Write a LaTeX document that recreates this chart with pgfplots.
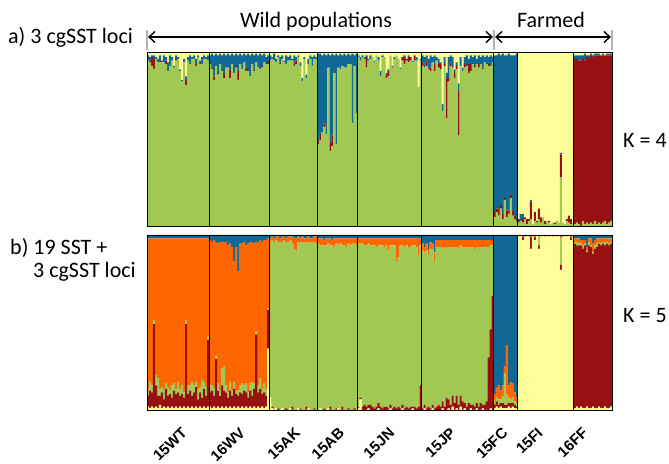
\documentclass[border=0pt]{standalone}
\usepackage{pgfplots}
\pgfplotsset{compat=1.18}
\usepackage{pgfplotstable}
\usetikzlibrary{arrows.meta}
\usepackage{fontspec}
\setmainfont{Carlito}
\newfontfamily\lab{Liberation Sans}
\definecolor{cgreen}{RGB}{160,200,82}
\definecolor{cblue}{RGB}{16,104,150}
\definecolor{cyellow}{RGB}{255,255,153}
\definecolor{cred}{RGB}{150,16,20}
\definecolor{corange}{RGB}{255,102,0}

\pgfplotstableread{
i g r b y
1 .95 0 .03 .02
2 .94 .01 .02 .03
3 .92 .05 .01 .02
4 .90 .06 .02 .02
5 .96 0 .01 .03
6 .94 0 .02 .04
7 .94 .01 .03 .02
8 .94 0 .01 .05
9 .94 0 .04 .02
10 .93 .02 .02 .03
11 .89 0 .05 .06
12 .92 0 .06 .02
13 .95 0 .02 .03
14 .91 0 .01 .08
15 .95 .01 .02 .02
16 .96 0 .01 .03
17 .89 0 .01 .10
18 .83 0 .01 .16
19 .94 0 .02 .04
20 .81 .03 .02 .14
21 .95 0 .02 .03
22 .93 0 .05 .02
23 .96 0 .01 .03
24 .96 0 .02 .02
25 .92 .01 .03 .04
26 .97 0 .01 .02
27 .93 0 .02 .05
28 .93 0 .04 .03
29 .96 0 .02 .02
30 .96 0 .01 .03
31 .95 0 .03 .02
32 .93 0 .05 .02
33 .90 .01 .08 .01
34 .84 .02 .12 .02
35 .92 0 .07 .01
36 .87 .01 .10 .02
37 .93 0 .06 .01
38 .89 0 .09 .02
39 .85 .03 .11 .01
40 .91 0 .07 .02
41 .91 0 .08 .01
42 .85 .05 .08 .02
43 .93 0 .06 .01
44 .88 0 .10 .02
45 .91 .01 .07 .01
46 .84 .05 .09 .02
47 .93 0 .06 .01
48 .90 0 .08 .02
49 .94 0 .05 .01
50 .89 .02 .07 .02
51 .89 0 .10 .01
52 .86 0 .12 .02
53 .93 0 .06 .01
54 .89 .01 .08 .02
55 .94 0 .05 .01
56 .91 0 .07 .02
57 .90 0 .09 .01
58 .91 .01 .06 .02
59 .94 0 .05 .01
60 .93 0 .04 .03
61 .93 .02 .03 .02
62 .95 0 .03 .02
63 .96 0 .01 .03
64 .95 0 .04 .01
65 .94 0 .02 .04
66 .97 0 .01 .02
67 .93 .01 .03 .03
68 .96 0 .02 .02
69 .94 0 .01 .05
70 .93 0 .05 .02
71 .95 0 .02 .03
72 .95 0 .03 .02
73 .95 0 .01 .04
74 .92 .02 .04 .02
75 .93 .02 .02 .03
76 .97 0 .01 .02
77 .92 0 .02 .06
78 .83 0 .02 .15
79 .96 0 .01 .03
80 .85 0 .02 .13
81 .93 0 .03 .04
82 .96 0 .02 .02
83 .92 0 .05 .03
84 .96 0 .02 .02
85 .96 0 .01 .03
86 .47 .02 .50 .01
87 .49 .04 .46 .01
88 .54 0 .44 .02
89 .57 .02 .40 .01
90 .53 0 .45 .02
91 .91 0 .08 .01
92 .43 .05 .50 .02
93 .46 .06 .47 .01
94 .88 0 .10 .02
95 .47 0 .52 .01
96 .91 0 .07 .02
97 .90 0 .09 .01
98 .92 0 .06 .02
99 .91 0 .08 .01
100 .91 0 .07 .02
101 .93 0 .06 .01
102 .93 0 .05 .02
103 .59 0 .40 .01
104 .92 0 .06 .02
105 .65 0 .34 .01
106 .97 0 .01 .02
107 .95 0 .02 .03
108 .97 0 .01 .02
109 .96 0 .01 .03
110 .91 .06 .01 .02
111 .95 0 .01 .04
112 .96 0 .02 .02
113 .97 0 0 .03
114 .94 0 .01 .05
115 .98 0 0 .02
116 .95 0 .02 .03
117 .86 0 .03 .11
118 .97 0 .01 .02
119 .97 0 0 .03
120 .85 .02 .01 .12
121 .86 .03 .01 .10
122 .98 0 0 .02
123 .91 0 .01 .08
124 .96 0 .01 .03
125 .98 0 0 .02
126 .96 0 0 .04
127 .90 0 .01 .09
128 .95 .02 0 .03
129 .93 .04 .01 .02
130 .95 .01 0 .04
131 .94 .03 .01 .02
132 .95 .02 0 .03
133 .94 0 .01 .05
134 .95 .03 0 .02
135 .95 0 .02 .03
136 .80 0 0 .20
137 .95 0 .01 .04
138 .92 .02 .04 .02
139 .91 0 .06 .03
140 .92 .03 .03 .02
141 .90 .01 .05 .04
142 .89 .02 .07 .02
143 .94 0 .03 .03
144 .89 .04 .05 .02
145 .95 0 .02 .03
146 .91 .02 .03 .04
147 .90 .03 .01 .06
148 .66 0 .04 .30
149 .92 .01 .04 .03
150 .62 .23 .03 .12
151 .83 .02 .12 .03
152 .92 .02 .04 .02
153 .91 .01 .05 .03
154 .85 .03 .02 .10
155 .90 .02 .02 .06
156 .52 .26 .04 .18
157 .92 0 .05 .03
158 .89 0 .02 .09
159 .91 .02 .04 .03
160 .92 0 .06 .02
161 .88 .05 .03 .04
162 .89 .04 .05 .02
163 .93 0 .04 .03
164 .91 .01 .06 .02
165 .93 0 .03 .04
166 .91 .02 .05 .02
167 .93 0 .04 .03
168 .90 .01 .07 .02
169 .94 0 .03 .03
170 .93 0 .05 .02
171 .92 .01 .04 .03
172 .92 0 .06 .02
173 .94 0 .03 .03
174 .05 .03 .90 .02
175 .08 .02 .88 .02
176 .06 .04 .89 .01
177 .10 .02 .86 .02
178 .04 .03 .92 .01
179 .15 .01 .82 .02
180 .05 .04 .89 .02
181 .07 .02 .90 .01
182 .16 .02 .80 .02
183 .06 .03 .89 .02
184 .04 .02 .92 .02
185 .03 .01 .95 .01
186 .02 .01 .01 .96
187 .03 0 .04 .93
188 .02 .02 .03 .93
189 .04 .01 0 .95
190 .01 .03 0 .96
191 .03 .01 0 .96
192 .04 .10 .01 .85
193 .01 0 0 .99
194 .03 .05 0 .92
195 .02 .01 0 .97
196 .04 .06 0 .90
197 .02 .03 0 .95
198 .05 0 0 .95
199 .01 .02 0 .97
200 .03 0 0 .97
201 .02 .01 0 .97
202 .01 0 0 .99
203 .02 0 0 .98
204 .01 .01 0 .98
205 .03 0 0 .97
206 .02 0 0 .98
207 .28 .13 .01 .58
208 .02 0 0 .98
209 .01 0 0 .99
210 .03 .01 0 .96
211 .02 .04 0 .94
212 .01 .03 0 .96
213 .02 0 0 .98
214 .01 .95 .02 .02
215 .02 .94 .02 .02
216 .01 .94 .03 .02
217 0 .95 .03 .02
218 .03 .93 .02 .02
219 .01 .94 .04 .01
220 .02 .95 .01 .02
221 .01 .95 .02 .02
222 .02 .96 .01 .01
223 .01 .96 .01 .02
224 .03 .95 .01 .01
225 .01 .97 .01 .01
226 .02 .96 .01 .01
227 .01 .97 0 .02
228 .02 .96 .01 .01
229 .03 .95 0 .02
230 .01 .97 .01 .01
231 .02 .96 .01 .01
232 .03 .95 .01 .01
}\dataA

\pgfplotstableread{
i Y D G O B
1 .02 .06 .03 .87 .02
2 .01 .10 .05 .82 .02
3 .02 .08 .04 .84 .02
4 .01 .48 .02 .47 .02
5 .02 .12 .06 .78 .02
6 .01 .07 .10 .80 .02
7 .03 .05 .04 .86 .02
8 .01 .09 .03 .85 .02
9 .02 .04 .06 .86 .02
10 .01 .11 .03 .83 .02
11 .02 .06 .05 .85 .02
12 .01 .08 .02 .87 .02
13 .02 .05 .07 .84 .02
14 .01 .10 .04 .83 .02
15 .02 .07 .03 .86 .02
16 .01 .09 .06 .82 .02
17 .02 .06 .04 .86 .02
18 .01 .08 .05 .84 .02
19 .02 .05 .03 .88 .02
20 .01 .48 .02 .47 .02
21 .02 .07 .05 .84 .02
22 .01 .10 .03 .84 .02
23 .02 .06 .08 .82 .02
24 .01 .09 .04 .84 .02
25 .02 .11 .03 .82 .02
26 .01 .05 .06 .86 .02
27 .02 .08 .03 .85 .02
28 .01 .06 .10 .81 .02
29 .02 .10 .04 .82 .02
30 .01 .07 .05 .85 .02
31 .02 .38 .02 .56 .02
32 .02 .08 .04 .83 .03
33 .01 .10 .03 .82 .04
34 .02 .06 .05 .84 .03
35 .01 .28 .02 .65 .04
36 .02 .09 .04 .80 .05
37 .01 .07 .03 .85 .04
38 .02 .12 .10 .72 .04
39 .01 .10 .14 .71 .04
40 .02 .08 .04 .82 .04
41 .01 .06 .03 .84 .06
42 .02 .09 .05 .79 .05
43 .01 .07 .03 .82 .07
44 .02 .10 .04 .69 .15
45 .01 .08 .02 .82 .07
46 .02 .06 .03 .68 .21
47 .01 .09 .04 .81 .05
48 .02 .07 .06 .80 .05
49 .01 .10 .03 .82 .04
50 .02 .08 .05 .79 .06
51 .01 .06 .03 .85 .05
52 .02 .09 .04 .81 .04
53 .01 .07 .08 .80 .04
54 .02 .10 .03 .80 .05
55 .01 .42 .02 .51 .04
56 .02 .08 .04 .82 .04
57 .01 .11 .06 .79 .03
58 .02 .07 .03 .84 .04
59 .01 .09 .05 .82 .03
60 .02 .06 .04 .85 .03
61 .35 .22 .01 .40 .02
62 .07 0 .89 .02 .02
63 .01 .01 .95 .02 .01
64 0 0 .96 .02 .02
65 .01 0 .96 .02 .01
66 0 .01 .95 .03 .01
67 0 0 .96 .02 .02
68 .01 0 .95 .03 .01
69 0 0 .97 .02 .01
70 0 .01 .95 .02 .02
71 0 0 .96 .03 .01
72 .01 0 .96 .02 .01
73 0 .02 .93 .04 .01
74 0 0 .92 .06 .02
75 0 0 .91 .07 .02
76 .01 0 .95 .03 .01
77 0 .01 .95 .02 .02
78 0 0 .96 .03 .01
79 0 0 .95 .03 .02
80 0 .02 .94 .02 .02
81 .01 0 .95 .03 .01
82 0 0 .95 .03 .02
83 0 0 .96 .02 .02
84 0 .01 .95 .03 .01
85 0 0 .95 .04 .01
86 0 0 .95 .03 .02
87 .01 0 .93 .04 .02
88 0 0 .94 .04 .02
89 0 .01 .93 .03 .03
90 0 0 .94 .04 .02
91 .01 0 .94 .03 .02
92 0 .02 .92 .04 .02
93 0 0 .94 .03 .03
94 0 0 .93 .05 .02
95 0 .01 .94 .03 .02
96 .01 0 .93 .04 .02
97 0 0 .95 .03 .02
98 0 .02 .92 .04 .02
99 0 0 .94 .04 .02
100 0 0 .93 .05 .02
101 0 .01 .94 .03 .02
102 0 0 .94 .04 .02
103 0 0 .95 .03 .02
104 0 .01 .94 .03 .02
105 0 0 .94 .04 .02
106 .01 .01 .93 .03 .02
107 .06 .01 .88 .03 .02
108 0 .02 .93 .03 .02
109 0 .03 .91 .04 .02
110 0 .02 .92 .04 .02
111 .01 .02 .92 .03 .02
112 0 .03 .91 .04 .02
113 0 .02 .92 .04 .02
114 0 .01 .93 .04 .02
115 0 .02 .91 .05 .02
116 .01 .03 .90 .04 .02
117 0 .02 .92 .04 .02
118 0 .01 .93 .04 .02
119 0 .02 .91 .05 .02
120 0 .02 .92 .04 .02
121 0 .01 .90 .07 .02
122 .01 .02 .91 .04 .02
123 0 .01 .93 .04 .02
124 0 .02 .92 .04 .02
125 0 .01 .84 .13 .02
126 0 .02 .85 .11 .02
127 0 .01 .93 .04 .02
128 .01 .02 .91 .04 .02
129 0 .01 .92 .05 .02
130 0 .02 .92 .04 .02
131 0 .01 .92 .05 .02
132 0 .02 .91 .05 .02
133 .01 .01 .92 .04 .02
134 0 .02 .92 .04 .02
135 0 .01 .92 .05 .02
136 0 .02 .86 .10 .02
137 0 .14 .80 .04 .02
138 0 .01 .90 .04 .05
139 .01 .02 .87 .03 .07
140 0 .01 .90 .04 .05
141 0 .02 .87 .03 .08
142 0 .01 .91 .04 .04
143 .01 .02 .89 .03 .05
144 0 .01 .84 .05 .10
145 0 .02 .91 .04 .03
146 0 .03 .90 .04 .03
147 0 .02 .91 .04 .03
148 .01 .04 .88 .04 .03
149 0 .02 .90 .05 .03
150 0 .07 .86 .04 .03
151 .01 .05 .87 .04 .03
152 0 .03 .90 .04 .03
153 .02 .06 .85 .04 .03
154 0 .04 .89 .04 .03
155 .01 .07 .85 .04 .03
156 0 .03 .89 .05 .03
157 .02 .06 .86 .03 .03
158 0 .05 .88 .04 .03
159 .01 .03 .89 .04 .03
160 0 .02 .91 .04 .03
161 0 .04 .89 .04 .03
162 .01 .02 .90 .04 .03
163 0 .03 .90 .04 .03
164 0 .02 .90 .05 .03
165 .01 .03 .89 .04 .03
166 0 .02 .91 .04 .03
167 0 .04 .89 .04 .03
168 .01 .02 .90 .04 .03
169 0 .03 .90 .04 .03
170 0 .05 .88 .04 .03
171 0 .30 .63 .04 .03
172 .01 .45 .48 .03 .03
173 0 .65 .29 .03 .03
174 .01 .02 .02 .04 .91
175 .02 .03 .02 .06 .87
176 .01 .02 .03 .08 .86
177 .02 .02 .02 .05 .89
178 .01 .03 .04 .06 .86
179 .01 .02 .18 .04 .75
180 .01 .02 .06 .28 .63
181 .02 .02 .03 .07 .86
182 .01 .03 .02 .10 .84
183 .02 .02 .03 .08 .85
184 .01 .02 .02 .05 .90
185 .01 .01 .02 .03 .93
186 .99 0 0 .01 0
187 1 0 0 0 0
188 .97 .02 0 .01 0
189 .99 .01 0 0 0
190 1 0 0 0 0
191 .99 0 0 .01 0
192 .92 .07 0 .01 0
193 .99 0 0 .01 0
194 .97 .02 .01 0 0
195 1 0 0 0 0
196 .92 .02 .05 .01 0
197 .99 0 0 .01 0
198 1 0 0 0 0
199 .99 .01 0 0 0
200 1 0 0 0 0
201 .99 0 0 .01 0
202 1 0 0 0 0
203 .99 .01 0 0 0
204 1 0 0 0 0
205 .99 0 0 .01 0
206 1 0 0 0 0
207 .80 .03 .15 .01 .01
208 .99 .01 0 0 0
209 1 0 0 0 0
210 .99 0 0 .01 0
211 1 0 0 0 0
212 .97 .02 0 .01 0
213 .99 0 0 .01 0
214 .01 .94 .01 .02 .02
215 .02 .92 .02 .02 .02
216 .01 .93 .01 .03 .02
217 .02 .92 .01 .02 .03
218 .01 .91 .02 .03 .03
219 .01 .93 .01 .02 .03
220 .02 .88 .01 .02 .07
221 .01 .93 .02 .02 .02
222 .01 .92 .01 .04 .02
223 .02 .87 .01 .05 .05
224 .01 .91 .02 .03 .03
225 .01 .92 .02 .03 .02
226 .02 .93 .01 .02 .02
227 .01 .93 .01 .03 .02
228 .01 .94 .01 .02 .02
229 .02 .92 .02 .02 .02
230 .01 .94 .01 .02 .02
231 .01 .93 .01 .03 .02
232 .02 .93 .01 .02 .02
}\dataB

\pgfplotsset{
  structure/.style={
    anchor=south west, scale only axis, width=465pt,
    xmin=0.5, xmax=232.5, ymin=0, ymax=1,
    ybar stacked, bar width=1.06,
    ytick=\empty, major tick length=0pt,
    extra x ticks={31.5,61.5,85.5,105.5,137.5,173.5,185.5,213.5},
    extra x tick labels={},
    extra x tick style={grid=major, major grid style={black, line width=1.1pt}},
    axis on top,
    axis line style={black, line width=0.9pt},
  },
}

\begin{document}
\begin{tikzpicture}[x=1pt,y=1pt]
\path[use as bounding box] (0,0) rectangle (669,463);

\begin{axis}[structure, at={(147pt,237pt)}, height=174pt, xtick=\empty]
\addplot[fill=cgreen, draw=none] table[x=i, y=g] {\dataA};
\addplot[fill=cred, draw=none] table[x=i, y=r] {\dataA};
\addplot[fill=cblue, draw=none] table[x=i, y=b] {\dataA};
\addplot[fill=cyellow, draw=none] table[x=i, y=y] {\dataA};
\end{axis}

\begin{axis}[structure, at={(147pt,53pt)}, height=175pt,
  xtick={19.5,48.5,76,98,123,153.5,179.5,197,219.5},
  xticklabels={15WT,16WV,15AK,15AB,15JN,15JP,15FC,15FI,16FF},
  xticklabel style={xshift=3pt, yshift=-24pt, rotate=44, anchor=base east, inner sep=0pt,
    font=\lab\bfseries\fontsize{15}{16}\selectfont}]
\addplot[fill=cyellow, draw=none] table[x=i, y=Y] {\dataB};
\addplot[fill=cred, draw=none] table[x=i, y=D] {\dataB};
\addplot[fill=cgreen, draw=none] table[x=i, y=G] {\dataB};
\addplot[fill=corange, draw=none] table[x=i, y=O] {\dataB};
\addplot[fill=cblue, draw=none] table[x=i, y=B] {\dataB};
\end{axis}

\fontsize{22}{24}\selectfont
\node[anchor=base west, inner sep=0pt] at (8,419) {a) 3 cgSST loci};
\node[anchor=base, inner sep=0pt] at (316,435) {Wild populations};
\node[anchor=base, inner sep=0pt] at (551,435) {Farmed};
\node[anchor=base west, inner sep=0pt] at (10,208) {b) 19 SST +};
\node[anchor=base west, inner sep=0pt] at (33,185) {3 cgSST loci};
\node[anchor=base west, inner sep=0pt] at (623,315) {K = 4};
\node[anchor=base west, inner sep=0pt] at (623,140) {K = 5};

\draw[gray!60, line width=1.2pt] (147,413) -- (147,433);
\draw[gray!60, line width=1.2pt] (494,413) -- (494,433);
\draw[gray!60, line width=1.2pt] (612,413) -- (612,433);
\draw[line width=1.4pt, {Straight Barb[length=6pt,width=11pt]}-{Straight Barb[length=6pt,width=11pt]}] (148,426) -- (493,426);
\draw[line width=1.4pt, {Straight Barb[length=6pt,width=11pt]}-{Straight Barb[length=6pt,width=11pt]}] (495,426) -- (611,426);
\end{tikzpicture}
\end{document}
